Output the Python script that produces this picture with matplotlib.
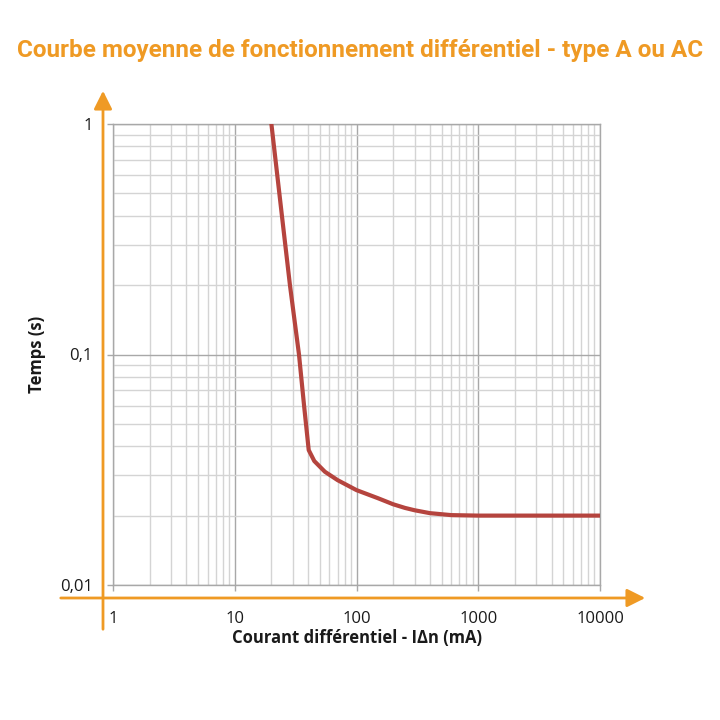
import numpy as np
import matplotlib.pyplot as plt
from matplotlib.ticker import LogLocator, FixedLocator, NullFormatter

# courbe (mA, s)
courant_ma = [20, 24.4, 28.4, 33.7, 37.1, 40.5, 45, 55, 70, 100, 150, 200, 250, 300, 400, 600, 1000, 3000, 10000]
temps_s = [1.0, 0.4, 0.2, 0.1, 0.06, 0.0385, 0.0345, 0.031, 0.0285, 0.0258, 0.0238, 0.0224, 0.0216, 0.0211, 0.0205, 0.0201, 0.02, 0.02, 0.02]

x_ticks = [1, 10, 100, 1000, 10000]
x_labels = ['1', '10', '100', '1000', '10000']
y_ticks = [0.01, 0.1, 1]
y_labels = ['0,01', '0,1', '1']

titre = 'Courbe moyenne de fonctionnement différentiel - type A ou AC'
orange = '#ef9a24'
rouge = '#b5443e'

fig = plt.figure(figsize=(7.2, 7.2), dpi=100)
ax = fig.add_axes([113 / 720, 1 - 585 / 720, 487 / 720, 461 / 720])

ax.plot(courant_ma, temps_s, color=rouge, linewidth=3.0, solid_joinstyle='round', zorder=3)

ax.set_xscale('log')
ax.set_yscale('log')
ax.set_xlim(1, 10000)
ax.set_ylim(0.01, 1)

ax.xaxis.set_major_locator(FixedLocator(x_ticks))
ax.set_xticklabels(x_labels)
ax.yaxis.set_major_locator(FixedLocator(y_ticks))
ax.set_yticklabels(y_labels)
ax.xaxis.set_minor_locator(LogLocator(base=10, subs=np.arange(2, 10)))
ax.yaxis.set_minor_locator(LogLocator(base=10, subs=np.arange(2, 10)))
ax.xaxis.set_minor_formatter(NullFormatter())
ax.yaxis.set_minor_formatter(NullFormatter())

ax.grid(True, which='major', color='#a8a8a8', linewidth=1.0)
ax.grid(True, which='minor', color='#d4d4d4', linewidth=1.0)
ax.set_axisbelow(True)
for s in ax.spines.values():
    s.set_color('#a8a8a8')
    s.set_linewidth(1.0)

ax.tick_params(which='major', direction='out', length=4.5, width=1.0, color='#a8a8a8',
               labelsize=12, labelcolor='#1a1a1a')
ax.tick_params(which='minor', length=0)
ax.tick_params(axis='x', pad=14)
ax.tick_params(axis='y', pad=10)
for lab in ax.get_xticklabels() + ax.get_yticklabels():
    lab.set_family('Open Sans')

ax.set_xlabel('Courant différentiel - IΔn (mA)', fontsize=12, fontweight='bold',
              family='Open Sans', color='#1a1a1a', labelpad=2)
ax.set_ylabel('Temps (s)', fontsize=12, fontweight='bold', family='Open Sans',
              color='#1a1a1a', labelpad=10)

# axes orange avec fleches
ax.annotate('', xy=(648, 720 - 598), xytext=(58, 720 - 598), xycoords='figure pixels',
            textcoords='figure pixels',
            arrowprops=dict(arrowstyle='-|>,head_length=1.1,head_width=0.55', color=orange, lw=2))
ax.annotate('', xy=(103, 720 - 88), xytext=(103, 720 - 632), xycoords='figure pixels',
            textcoords='figure pixels',
            arrowprops=dict(arrowstyle='-|>,head_length=1.1,head_width=0.55', color=orange, lw=2))

fig.text(0.5, 1 - 51 / 720, titre, ha='center', va='center', fontsize=17.5, fontweight='bold',
         color=orange, family=['Roboto', 'DejaVu Sans'])

fig.savefig('out.png', dpi=100)
